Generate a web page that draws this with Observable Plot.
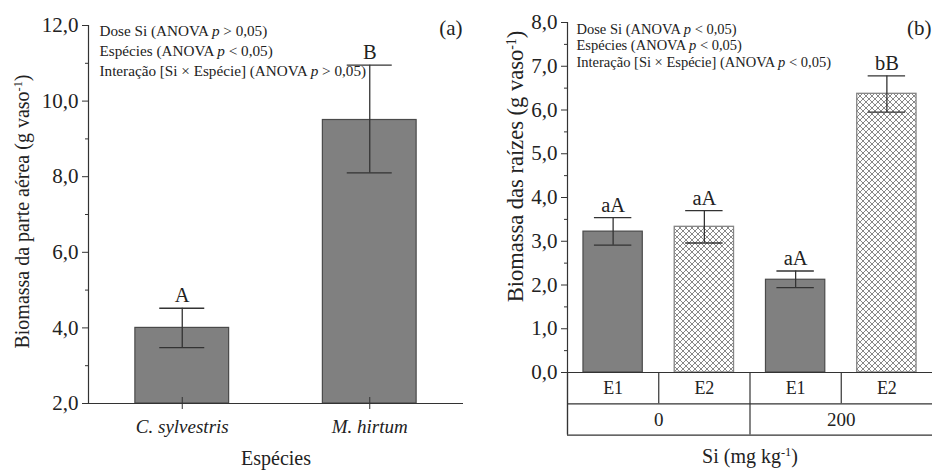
<!DOCTYPE html>
<html>
<head>
<meta charset="utf-8">
<script src="https://cdn.jsdelivr.net/npm/d3@7"></script>
<script src="https://cdn.jsdelivr.net/npm/@observablehq/plot@0.6"></script>
<style>
  html, body { margin: 0; padding: 0; background: #fff; }
  #wrap { display: flex; width: 932px; height: 470px; overflow: hidden; }
  #wrap > svg { flex: none; max-width: none; }
</style>
</head>
<body>
<div id="wrap"></div>
<script>
// ---------- Panel (a): shoot biomass ----------
const species = ["C. sylvestris", "M. hirtum"];
const shootMean = [4.0, 9.5];
const shootLow = [3.48, 8.1];
const shootHigh = [4.52, 10.95];
const shootLetters = ["A", "B"];
const yTicksA = [2, 4, 6, 8, 10, 12];
const yMinorA = [3, 5, 7, 9, 11];
const annotationsA = [
  "Dose Si (ANOVA p > 0,05)",
  "Espécies (ANOVA p < 0,05)",
  "Interação [Si × Espécie] (ANOVA p > 0,05)"
];
const yLabelA = "Biomassa da parte aérea (g vaso⁻¹)";
const xLabelA = "Espécies";
const panelA = "(a)";

// ---------- Panel (b): root biomass ----------
const rootSpecies = ["E1", "E2", "E1", "E2"];
const rootDose = ["0", "0", "200", "200"];
const doseGroups = ["0", "200"];
const rootMean = [3.22, 3.33, 2.12, 6.37];
const rootLow = [2.91, 2.96, 1.94, 5.95];
const rootHigh = [3.54, 3.70, 2.32, 6.78];
const rootLetters = ["aA", "aA", "aA", "bB"];
const yTicksB = [0, 1, 2, 3, 4, 5, 6, 7, 8];
const yMinorB = [0.5, 1.5, 2.5, 3.5, 4.5, 5.5, 6.5, 7.5];
const annotationsB = [
  "Dose Si (ANOVA p < 0,05)",
  "Espécies (ANOVA p < 0,05)",
  "Interação [Si × Espécie] (ANOVA p < 0,05)"
];
const yLabelB = "Biomassa das raízes (g vaso⁻¹)";
const xLabelB = "Si (mg kg⁻¹)";
const panelB = "(b)";

// ---------- shared style ----------
const serif = '"Liberation Serif", "Times New Roman", serif';
const fmt = d => d.toFixed(1).replace(".", ",");
const ink = "#222";
const line = "#333";
const gray = "#808080";

// ---------- Panel (a) ----------
const A = species.map((name, i) => ({name, i, mean: shootMean[i], lo: shootLow[i], hi: shootHigh[i], letter: shootLetters[i]}));
const padA = 0.25, capA = 0.12;
const mA = {top: 25, bottom: 67, left: 88, right: 7};
const plotA = Plot.plot({
  width: 470, height: 470,
  marginTop: mA.top, marginBottom: mA.bottom, marginLeft: mA.left, marginRight: mA.right,
  style: {fontFamily: serif, fontSize: "19px", color: ink, background: "white"},
  x: {domain: [0, species.length], label: null, axis: null},
  y: {domain: [yTicksA[0], yTicksA[yTicksA.length - 1]], label: null},
  marks: [
    Plot.rectY(A, {x1: d => d.i + padA, x2: d => d.i + 1 - padA, y1: yTicksA[0], y2: "mean", fill: gray, stroke: "#4a4a4a", strokeWidth: 1.2}),
    Plot.ruleX(A, {x: d => d.i + 0.5, y1: "lo", y2: "hi", stroke: line, strokeWidth: 1.3}),
    Plot.ruleY(A, {y: "hi", x1: d => d.i + 0.5 - capA, x2: d => d.i + 0.5 + capA, stroke: line, strokeWidth: 1.3}),
    Plot.ruleY(A, {y: "lo", x1: d => d.i + 0.5 - capA, x2: d => d.i + 0.5 + capA, stroke: line, strokeWidth: 1.3}),
    Plot.text(A, {x: d => d.i + 0.5, y: "hi", text: "letter", dy: -6, lineAnchor: "bottom", fontSize: 20.5, fill: ink}),
    Plot.ruleX([0], {y1: yTicksA[0], y2: yTicksA[yTicksA.length - 1], stroke: line, strokeWidth: 1.2}),
    Plot.ruleY([yTicksA[0]], {stroke: line, strokeWidth: 1.2}),
    Plot.axisY({ticks: yTicksA, tickSize: 6, tickPadding: 4, tickFormat: fmt, fontSize: 21, label: null, stroke: line, fill: ink}),
    Plot.axisY({ticks: yMinorA, tickSize: 3, tickFormat: () => "", label: null, stroke: line}),
    Plot.axisX({ticks: A.map(d => d.i + 0.5), tickSize: 6, tickPadding: 10, tickFormat: v => species[Math.floor(v)], fontStyle: "italic", fontSize: 19, label: null, stroke: line, fill: ink}),
    Plot.axisX({ticks: A.map(d => d.i + 0.5), tickSize: 6, dy: -6, tickFormat: () => "", label: null, stroke: line}),
    Plot.text([xLabelA], {frameAnchor: "bottom", dy: 61, lineAnchor: "bottom", fontSize: 20, fill: ink}),
    Plot.text([yLabelA], {frameAnchor: "left", dx: -66, dy: -3, rotate: -90, textAnchor: "middle", lineAnchor: "middle", fontSize: 20, fill: ink}),
    Plot.text([panelA], {frameAnchor: "top-right", dx: -1, dy: 9, textAnchor: "end", lineAnchor: "bottom", fontSize: 21, fill: ink}),
    ...annotationsA.map((t, k) => Plot.text([t], {frameAnchor: "top-left", dx: 11, dy: 10 + k * 20.4, textAnchor: "start", lineAnchor: "bottom", fontSize: 15.2, fill: ink}))
  ]
});

// ---------- Panel (b) ----------
const B = rootSpecies.map((code, i) => ({code, i, dose: rootDose[i], mean: rootMean[i], lo: rootLow[i], hi: rootHigh[i], letter: rootLetters[i]}));
const padB = 0.175, capB = 0.205;
const mB = {top: 22, bottom: 98, left: 97, right: 0};
const yMinB = yTicksB[0], yMaxB = yTicksB[yTicksB.length - 1];
const frameHB = 470 - mB.top - mB.bottom;
const rowU = 31.3 * (yMaxB - yMinB) / frameHB; // table row height in y units
const perGroup = B.length / doseGroups.length;

const plotB = Plot.plot({
  width: 462, height: 470,
  marginTop: mB.top, marginBottom: mB.bottom, marginLeft: mB.left, marginRight: mB.right,
  style: {fontFamily: serif, fontSize: "19px", color: ink, background: "white"},
  x: {domain: [0, B.length], label: null, axis: null},
  y: {domain: [yMinB, yMaxB], label: null},
  marks: [
    Plot.rectY(B, {filter: d => d.code === "E1", x1: d => d.i + padB, x2: d => d.i + 1 - padB, y1: yMinB, y2: "mean", fill: gray, stroke: "#4a4a4a", strokeWidth: 1.2}),
    Plot.rectY(B, {filter: d => d.code === "E2", x1: d => d.i + padB, x2: d => d.i + 1 - padB, y1: yMinB, y2: "mean", fill: "url(#crosshatch)", stroke: "#858585", strokeWidth: 1.3}),
    Plot.ruleX(B, {x: d => d.i + 0.5, y1: "lo", y2: "hi", stroke: line, strokeWidth: 1.3}),
    Plot.ruleY(B, {y: "hi", x1: d => d.i + 0.5 - capB, x2: d => d.i + 0.5 + capB, stroke: line, strokeWidth: 1.3}),
    Plot.ruleY(B, {y: "lo", x1: d => d.i + 0.5 - capB, x2: d => d.i + 0.5 + capB, stroke: line, strokeWidth: 1.3}),
    Plot.text(B, {x: d => d.i + 0.5, y: "hi", text: "letter", dy: -6, lineAnchor: "bottom", fontSize: 20.5, fill: ink}),
    // axes
    Plot.ruleX([0], {y1: yMinB - 2 * rowU, y2: yMaxB, stroke: line, strokeWidth: 1.2}),
    Plot.ruleY([yMinB], {stroke: line, strokeWidth: 1.2}),
    Plot.axisY({ticks: yTicksB, tickSize: 6, tickPadding: 4, tickFormat: fmt, fontSize: 21, label: null, stroke: line, fill: ink}),
    Plot.axisY({ticks: yMinorB, tickSize: 3, tickFormat: () => "", label: null, stroke: line}),
    // table below the axis
    Plot.ruleY([yMinB - rowU, yMinB - 2 * rowU], {stroke: line, strokeWidth: 1.2}),
    Plot.ruleX(B, {x: d => d.i, y1: yMinB, y2: d => d.i % perGroup === 0 ? yMinB - 2 * rowU : yMinB - rowU, stroke: line, strokeWidth: 1.2}),
    Plot.text(B, {x: d => d.i + 0.5, y: yMinB - rowU / 2, text: "code", lineAnchor: "middle", fontSize: 18, fill: ink}),
    Plot.text(doseGroups, {x: (d, j) => j * perGroup + perGroup / 2, y: yMinB - 1.5 * rowU, text: d => d, lineAnchor: "middle", fontSize: 19, fill: ink}),
    Plot.text([xLabelB], {frameAnchor: "bottom", dy: 90, lineAnchor: "bottom", fontSize: 20, fill: ink}),
    Plot.text([yLabelB], {frameAnchor: "left", dx: -52, dy: -31, rotate: -90, textAnchor: "middle", lineAnchor: "middle", fontSize: 22.5, fill: ink}),
    Plot.text([panelB], {frameAnchor: "top-right", dx: -1, dy: 12, textAnchor: "end", lineAnchor: "bottom", fontSize: 21, fill: ink}),
    ...annotationsB.map((t, k) => Plot.text([t], {frameAnchor: "top-left", dx: 9, dy: 11 + k * 16.8, textAnchor: "start", lineAnchor: "bottom", fontSize: 14.5, fill: ink}))
  ]
});

// crosshatch pattern definition
const ns = "http://www.w3.org/2000/svg";
d3.select(plotB).insert("defs", ":first-child").html(
  '<pattern id="crosshatch" patternUnits="userSpaceOnUse" width="6" height="6">' +
  '<rect width="6" height="6" fill="#fff"/>' +
  '<path d="M0,0L6,6M6,0L0,6" stroke="#7a7a7a" stroke-width="0.9" fill="none"/>' +
  '</pattern>'
);

// rich text: italic p and superscript -1
function enrich(svg) {
  svg.querySelectorAll("text, tspan").forEach(el => {
    if (el.children.length) return;
    const s = el.textContent;
    if (!/ p |⁻¹/.test(s)) return;
    const parts = s.split(/( p |⁻¹)/);
    el.textContent = "";
    for (const part of parts) {
      if (part === " p ") {
        el.append(" ");
        const t = document.createElementNS(ns, "tspan");
        t.setAttribute("font-style", "italic");
        t.textContent = "p";
        el.append(t);
        el.append(" ");
      } else if (part === "⁻¹") {
        const t = document.createElementNS(ns, "tspan");
        t.setAttribute("baseline-shift", "super");
        t.setAttribute("font-size", "62%");
        t.textContent = "-1";
        el.append(t);
      } else if (part) {
        el.append(part);
      }
    }
  });
}
enrich(plotA);
enrich(plotB);

const wrap = document.getElementById("wrap");
wrap.append(plotA, plotB);
</script>
</body>
</html>
